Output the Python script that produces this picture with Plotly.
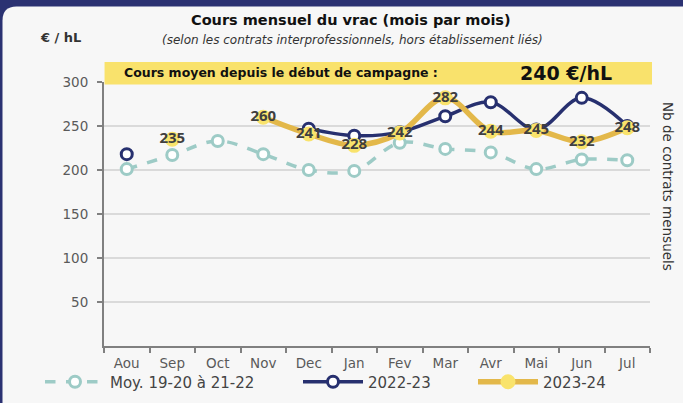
import plotly.graph_objects as go

months = ["Aou", "Sep", "Oct", "Nov", "Dec", "Jan", "Fev", "Mar", "Avr", "Mai", "Jun", "Jul"]
moy_19_22 = [201, 217, 233, 218, 200, 199, 231, 224, 220, 201, 212, 211]
s_2022_23 = [218, None, None, None, 247, 239, 243, 261, 277, 246, 282, 250]
s_2023_24 = [None, 235, None, 260, 241, 228, 242, 282, 244, 245, 232, 248]
y_ticks = [50, 100, 150, 200, 250, 300]
avg_label = "240 €/hL"

W, H = 683, 403
ML, MR, MT, MB = 104, 33, 82, 57
PW, PH = W - ML - MR, H - MT - MB
FONT = "DejaVu Sans"
NUMFONT = "Open Sans"

def px(x):
    return (x - ML) / PW

def py(y):
    return (H - MB - y) / PH

fig = go.Figure()

fig.add_trace(go.Scatter(
    x=months, y=moy_19_22, name="Moy. 19-20 à 21-22", mode="lines+markers",
    line=dict(color="#9dcbc6", width=3.5, dash="dash", shape="spline"),
    marker=dict(size=11, color="white", line=dict(color="#9dcbc6", width=3)),
    legend="legend",
))
fig.add_trace(go.Scatter(
    x=months, y=s_2022_23, name="2022-23", mode="lines+markers",
    line=dict(color="#27306f", width=3.5, shape="spline"),
    marker=dict(size=11, color="white", line=dict(color="#27306f", width=3)),
    legend="legend2",
))
fig.add_trace(go.Scatter(
    x=months, y=s_2023_24, name="2023-24", mode="lines+markers+text",
    line=dict(color="#e3b84a", width=5.5, shape="spline"),
    marker=dict(size=13, color="#f9e36c", line=dict(color="#f9e36c", width=2)),
    text=[str(v) if v is not None else "" for v in s_2023_24],
    textposition="middle center",
    textfont=dict(family=NUMFONT, size=15, color="#3f3f3f", weight="bold"),
    legend="legend3",
))

# panel with rounded top-left corner on navy frame
r = 14
x0, y0, x1, y1 = 2.5, 6.5, 700, 420
path = (f"M {px(x0)},{py(y0 + r)} Q {px(x0)},{py(y0)} {px(x0 + r)},{py(y0)} "
        f"L {px(x1)},{py(y0)} L {px(x1)},{py(y1)} L {px(x0)},{py(y1)} Z")
shapes = [
    dict(type="path", xref="paper", yref="paper", path=path,
         fillcolor="#f7f7f7", line=dict(width=0), layer="below"),
    dict(type="rect", xref="paper", yref="paper", x0=0.001, x1=px(652),
         y0=py(84.5), y1=py(62), fillcolor="#f9e26c", line=dict(width=0), layer="above"),
]

annotations = [
    dict(text="<b>Cours mensuel du vrac (mois par mois)</b>", x=px(351), y=py(20),
         xref="paper", yref="paper", showarrow=False, xanchor="center", yanchor="middle",
         font=dict(family=FONT, size=14.5, color="#111")),
    dict(text="<i>(selon les contrats interprofessionnels, hors établissement liés)</i>",
         x=px(352), y=py(40), xref="paper", yref="paper", showarrow=False,
         xanchor="center", yanchor="middle", font=dict(family=FONT, size=12, color="#333")),
    dict(text="<b>€ / hL</b>", x=px(60), y=py(37), xref="paper", yref="paper",
         showarrow=False, xanchor="center", yanchor="middle",
         font=dict(family=FONT, size=13, color="#333")),
    dict(text="<b>Cours moyen depuis le début de campagne :</b>", x=px(122), y=py(73),
         xref="paper", yref="paper", showarrow=False, xanchor="left", yanchor="middle",
         font=dict(family=FONT, size=12.5, color="#111")),
    dict(text=f"<b>{avg_label}</b>", x=px(566), y=py(73), xref="paper", yref="paper",
         showarrow=False, xanchor="center", yanchor="middle",
         font=dict(family=FONT, size=19, color="#111")),
    dict(text="Nb de contrats mensuels", x=px(668), y=py(186), xref="paper", yref="paper",
         showarrow=False, xanchor="center", yanchor="middle", textangle=90,
         font=dict(family=FONT, size=13.5, color="#333")),
]

leg_common = dict(orientation="h", yanchor="middle", xanchor="left", y=py(382),
                  font=dict(family=FONT, size=15, color="#444"),
                  bgcolor="rgba(0,0,0,0)", itemwidth=60)

fig.update_layout(
    width=W, height=H,
    margin=dict(l=ML, r=MR, t=MT, b=MB, pad=0, autoexpand=False),
    paper_bgcolor="#2b3272", plot_bgcolor="rgba(0,0,0,0)",
    font=dict(family=FONT, color="#555"),
    shapes=shapes, annotations=annotations,
    showlegend=True,
    legend=dict(x=px(40), **leg_common),
    legend2=dict(x=px(298), **leg_common),
    legend3=dict(x=px(473), **leg_common),
)
fig.update_xaxes(
    type="category", categoryorder="array", categoryarray=months,
    range=[-0.5, 11.5], showline=True, linecolor="#808080", linewidth=2,
    ticks="outside", tickson="boundaries", ticklen=5, tickcolor="#808080", tickwidth=1.5,
    tickfont=dict(family=FONT, size=13.5, color="#5a5a5a"), ticklabelstandoff=4,
    showgrid=False, zeroline=False,
)
fig.update_yaxes(
    range=[0, 300], tickvals=y_ticks, showline=True, linecolor="#808080", linewidth=2,
    ticks="outside", ticklen=5, tickcolor="#808080", tickwidth=1.5,
    tickfont=dict(family=FONT, size=13.5, color="#5a5a5a"), ticklabelstandoff=6,
    showgrid=True, gridcolor="#dadada", gridwidth=1.5, zeroline=False,
)

fig.write_html("out.html", config={"displayModeBar": False},
               post_script="document.body.style.margin='0';document.body.style.overflow='hidden';")
